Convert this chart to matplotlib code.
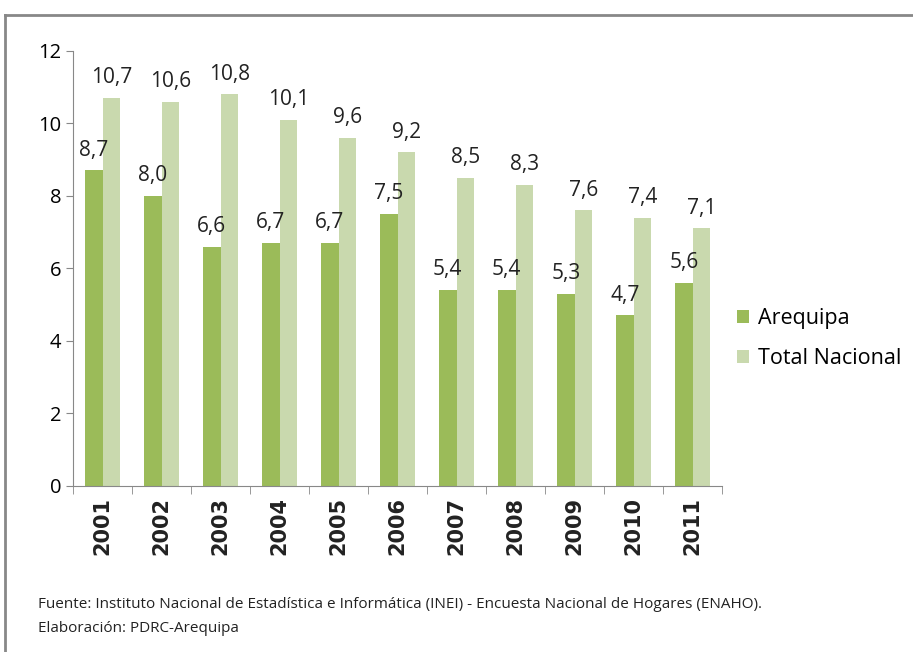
import matplotlib.pyplot as plt
import numpy as np
from matplotlib.lines import Line2D

years = ["2001", "2002", "2003", "2004", "2005", "2006", "2007", "2008", "2009", "2010", "2011"]
arequipa = [8.7, 8.0, 6.6, 6.7, 6.7, 7.5, 5.4, 5.4, 5.3, 4.7, 5.6]
total_nacional = [10.7, 10.6, 10.8, 10.1, 9.6, 9.2, 8.5, 8.3, 7.6, 7.4, 7.1]

plt.rcParams['font.family'] = ['Open Sans', 'DejaVu Sans']

fig = plt.figure(figsize=(9.13, 6.52), dpi=100)
ax = fig.add_axes([0.080, 0.255, 0.711, 0.667])

x = np.arange(len(years))
w = 0.3
b1 = ax.bar(x - w / 2, arequipa, w, color="#9bbb59", label="Arequipa")
b2 = ax.bar(x + w / 2, total_nacional, w, color="#c9d9ae", label="Total Nacional")

# etiquetas de valores
for bars, vals in ((b1, arequipa), (b2, total_nacional)):
    for r, v in zip(bars, vals):
        ax.annotate(f"{v:.1f}".replace(".", ","),
                    (r.get_x() + r.get_width() / 2, v),
                    xytext=(0, 7), textcoords="offset points",
                    ha="center", va="bottom", fontsize=15, color="#222222")

ax.set_xlim(-0.5, len(years) - 0.5)
ax.set_ylim(0, 12)
ax.set_yticks(range(0, 13, 2))
ax.tick_params(axis="y", labelsize=14.5, length=5, color="#888888")

ax.set_xticks(x)
ax.set_xticklabels(years, rotation=90, fontsize=15, fontweight="bold",
                   family=['DejaVu Sans'], color="#222222")
ax.set_xticks(np.arange(-0.5, len(years), 1), minor=True)
ax.tick_params(axis="x", which="major", length=0, pad=8)
ax.tick_params(axis="x", which="minor", length=6, color="#888888")

for s in ("top", "right"):
    ax.spines[s].set_visible(False)
for s in ("left", "bottom"):
    ax.spines[s].set_color("#888888")

ax.legend(loc="center left", bbox_to_anchor=(1.0, 0.338), frameon=False,
          fontsize=15.5, handlelength=0.55, handleheight=0.55, labelspacing=0.9,
          handletextpad=0.4, borderaxespad=0.3)

# marco exterior
fig.add_artist(Line2D([5 / 913, 1.0], [1 - 15 / 652, 1 - 15 / 652], color="#888888", lw=2))
fig.add_artist(Line2D([5 / 913, 5 / 913], [0, 1 - 15 / 652], color="#888888", lw=2))

fig.text(38 / 913, 1 - 605 / 652,
         "Fuente: Instituto Nacional de Estadística e Informática (INEI) - Encuesta Nacional de Hogares (ENAHO).",
         fontsize=11, va="center", color="#222222")
fig.text(38 / 913, 1 - 628 / 652, "Elaboración: PDRC-Arequipa",
         fontsize=11, va="center", color="#222222")

fig.savefig("out.png", dpi=100)
